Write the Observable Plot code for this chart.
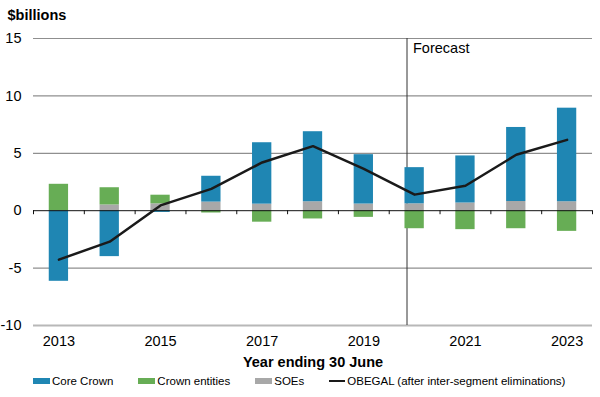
<!DOCTYPE html>
<html>
<head>
<meta charset="utf-8">
<script src="https://cdn.jsdelivr.net/npm/d3@7"></script>
<script src="https://cdn.jsdelivr.net/npm/@observablehq/plot@0.6"></script>
<style>
  html, body { margin: 0; padding: 0; background: #fff; }
  body { width: 600px; height: 397px; overflow: hidden; font-family: "Liberation Sans", Arial, sans-serif; color: #000; }
  #chart svg { display: block; }
  .legend { display: flex; align-items: center; height: 22px; padding-left: 33px; gap: 25px; font-size: 11.5px; }
  .legend .item { display: flex; align-items: center; }
  .legend .sw { width: 17px; height: 6px; margin-right: 2px; }
  .legend .ln { width: 16px; height: 2.5px; margin-right: 2px; }
</style>
</head>
<body>
<div id="chart"></div>
<script>
// ---- data ----
const years = [2013, 2014, 2015, 2016, 2017, 2018, 2019, 2020, 2021, 2022, 2023];
const coreCrown     = [-6.15, -4.0, -0.15, 2.25, 5.35, 6.1, 4.3, 3.15, 4.1, 6.45, 8.15];
const crownEntities = [2.3, 1.5, 0.75, -0.2, -1.0, -0.72, -0.58, -1.57, -1.65, -1.57, -1.8];
const soes          = [0, 0.5, 0.6, 0.75, 0.57, 0.78, 0.58, 0.6, 0.67, 0.8, 0.78];
const obegal        = [-4.26, -2.7, 0.46, 1.9, 4.2, 5.62, 3.65, 1.4, 2.17, 4.87, 6.17];
const yTicks = [-10, -5, 0, 5, 10, 15];
const xTickLabels = [2013, 2015, 2017, 2019, 2021, 2023];
const forecastStart = 2019.85;
const forecastLabel = "Forecast";
const yLabel = "$billions";
const xLabel = "Year ending 30 June";
const seriesNames = ["SOEs", "Core Crown", "Crown entities"];
const colors = {"Core Crown": "#1f86b3", "Crown entities": "#67ad55", "SOEs": "#a8a8a8"};

// ---- build tables ----
const seriesValues = {"SOEs": soes, "Core Crown": coreCrown, "Crown entities": crownEntities};
const rows = [];
for (const s of seriesNames) years.forEach((yr, i) => rows.push({year: yr, series: s, value: seriesValues[s][i]}));
const lineRows = years.map((yr, i) => ({year: yr, value: obegal[i]}));
const boundaries = years.map(y => y - 0.5).concat([years[years.length - 1] + 0.5]);
const halfBar = 0.19;
const tickDepth = -0.35;

const chart = Plot.plot({
  width: 600,
  height: 370,
  marginTop: 38,
  marginBottom: 45,
  marginLeft: 33,
  marginRight: 8,
  style: {fontFamily: '"Liberation Sans", Arial, sans-serif', fontSize: "14.5px", color: "#000", background: "#fff"},
  x: {domain: [years[0] - 0.5, years[years.length - 1] + 0.5]},
  y: {domain: [-10, 15]},
  color: {domain: Object.keys(colors), range: Object.values(colors)},
  marks: [
    Plot.ruleY(yTicks.filter(v => v !== 0 && v !== -10), {stroke: "#8f8f8f", strokeWidth: 1.2}),
    Plot.ruleY([-10], {stroke: "#b8b8b8", strokeWidth: 2}),
    Plot.ruleX([forecastStart], {stroke: "#333", strokeWidth: 1}),
    Plot.rectY(rows, {x1: d => d.year - halfBar, x2: d => d.year + halfBar, y: "value", fill: "series", order: seriesNames}),
    Plot.ruleY([0], {stroke: "#111", strokeWidth: 1}),
    Plot.ruleX(boundaries, {x: d => d, y1: 0, y2: tickDepth, stroke: "#111", strokeWidth: 1}),
    Plot.line(lineRows, {x: "year", y: "value", stroke: "#1a1a1a", strokeWidth: 2.5}),
    Plot.axisY({ticks: yTicks, tickSize: 0, tickPadding: 12, tickFormat: d => String(d), label: null, fontSize: 14.5}),
    Plot.axisX({ticks: xTickLabels, tickSize: 0, tickPadding: 10, tickFormat: d => String(d), label: null, fontSize: 14.5}),
    Plot.text([forecastLabel], {x: forecastStart, y: 15, dx: 6, dy: 4, text: d => d, textAnchor: "start", lineAnchor: "top", fontSize: 14.5}),
    Plot.text([yLabel], {frameAnchor: "top-left", dx: -26, dy: -23, text: d => d, textAnchor: "start", lineAnchor: "middle", fontWeight: "bold", fontSize: 14.5}),
    Plot.text([xLabel], {frameAnchor: "bottom", dy: 37, text: d => d, lineAnchor: "middle", fontWeight: "bold", fontSize: 14.5})
  ]
});
document.getElementById("chart").appendChild(chart);

// ---- legend ----
const legendItems = [
  {label: "Core Crown", kind: "sw", color: colors["Core Crown"]},
  {label: "Crown entities", kind: "sw", color: colors["Crown entities"]},
  {label: "SOEs", kind: "sw", color: colors["SOEs"]},
  {label: "OBEGAL (after inter-segment eliminations)", kind: "ln", color: "#1a1a1a"}
];
const legend = document.createElement("div");
legend.className = "legend";
for (const it of legendItems) {
  const item = document.createElement("div");
  item.className = "item";
  const sw = document.createElement("span");
  sw.className = it.kind;
  sw.style.background = it.color;
  const tx = document.createElement("span");
  tx.textContent = it.label;
  item.appendChild(sw);
  item.appendChild(tx);
  legend.appendChild(item);
}
document.body.appendChild(legend);
</script>
</body>
</html>
